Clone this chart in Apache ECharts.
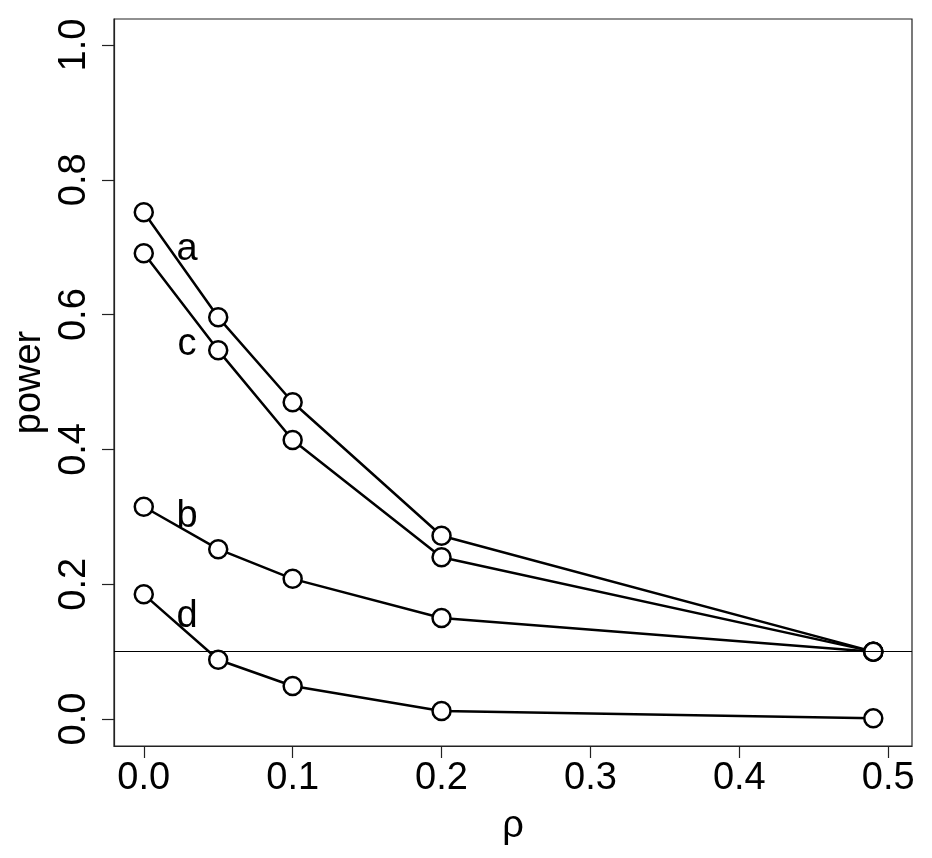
<!DOCTYPE html>
<html>
<head>
<meta charset="utf-8">
<script src="https://cdn.jsdelivr.net/npm/echarts@6/dist/echarts.min.js"></script>
<style>
html,body{margin:0;padding:0;background:#fff;}
#chart{width:932px;height:858px;}
</style>
</head>
<body>
<div id="chart"></div>
<script>
// ---- data ----
const rho = [0, 0.05, 0.1, 0.2, 0.49];
const seriesA = [0.752, 0.596, 0.470, 0.272, 0.100];
const seriesC = [0.691, 0.547, 0.414, 0.240, 0.100];
const seriesB = [0.315, 0.252, 0.208, 0.150, 0.100];
const seriesD = [0.185, 0.088, 0.049, 0.012, 0.001];
const curveNames = ['a', 'c', 'b', 'd'];
const labelX = [0.029, 0.029, 0.029, 0.029];
const labelY = [0.697, 0.555, 0.300, 0.152];
const xTicks = [0, 0.1, 0.2, 0.3, 0.4, 0.5];
const yTicks = [0, 0.2, 0.4, 0.6, 0.8, 1.0];
const refLine = 0.1;

const FONT = 'Liberation Sans, Arial, sans-serif';
const allSeries = [seriesA, seriesC, seriesB, seriesD];

const lineSeries = allSeries.map((vals, i) => ({
  type: 'line',
  name: curveNames[i],
  data: rho.map((r, j) => [r, vals[j]]),
  symbol: 'circle',
  symbolSize: 18,
  showSymbol: true,
  lineStyle: {color: '#000', width: 2.5},
  itemStyle: {color: '#fff', borderColor: '#000', borderWidth: 2.5},
  z: 3,
  animation: false,
  markLine: i === 0 ? {
    silent: true,
    symbol: ['none', 'none'],
    label: {show: false},
    lineStyle: {color: '#000', width: 1, type: 'solid'},
    data: [{yAxis: refLine}],
    animation: false
  } : undefined
}));

const labelSeries = {
  type: 'scatter',
  symbolSize: 0,
  itemStyle: {opacity: 1},
  data: curveNames.map((n, i) => ({value: [labelX[i], labelY[i]], name: n})),
  label: {
    show: true,
    position: 'inside',
    formatter: p => p.name,
    color: '#000',
    opacity: 1,
    fontSize: 38,
    fontFamily: FONT
  },
  z: 5,
  animation: false
};

const chart = echarts.init(document.getElementById('chart'), null, {renderer: 'canvas'});
chart.setOption({
  backgroundColor: '#fff',
  animation: false,
  grid: {
    left: 114, top: 19, width: 798, height: 727,
    containLabel: false,
    outerBoundsMode: 'none',
    show: true, borderColor: '#222', borderWidth: 1.2, backgroundColor: 'transparent'
  },
  xAxis: {
    type: 'value',
    min: -0.02, max: 0.516,
    name: 'ρ',
    nameLocation: 'middle',
    nameGap: 62,
    nameTextStyle: {fontSize: 38, fontFamily: FONT, color: '#000'},
    axisLine: {show: true, onZero: false, lineStyle: {color: '#222', width: 1.2}},
    axisTick: {show: true, length: 12, inside: false, customValues: xTicks, lineStyle: {color: '#222', width: 1.2}},
    axisLabel: {show: true, customValues: xTicks, fontSize: 38, fontFamily: FONT, color: '#000', margin: 14,
      formatter: v => v.toFixed(1)},
    splitLine: {show: false}
  },
  yAxis: {
    type: 'value',
    min: -0.04, max: 1.0386,
    name: 'power',
    nameLocation: 'middle',
    nameRotate: 90,
    nameGap: 64,
    nameTextStyle: {fontSize: 38, fontFamily: FONT, color: '#000'},
    axisLine: {show: true, onZero: false, lineStyle: {color: '#222', width: 1.2}},
    axisTick: {show: true, length: 12, inside: false, customValues: yTicks, lineStyle: {color: '#222', width: 1.2}},
    axisLabel: {show: true, customValues: yTicks, rotate: 90, fontSize: 38, fontFamily: FONT, color: '#000', margin: 20,
      formatter: v => v.toFixed(1)},
    splitLine: {show: false}
  },
  series: [...lineSeries, labelSeries]
});
</script>
</body>
</html>
